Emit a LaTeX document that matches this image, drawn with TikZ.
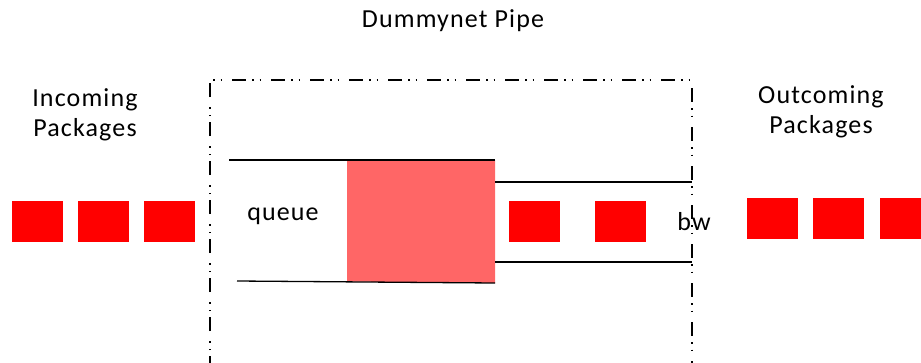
\documentclass[tikz,border=0pt]{standalone}
\usepackage{fontspec}
\setmainfont[LetterSpace=4.4]{Carlito}
\begin{document}
\begin{tikzpicture}[x=1pt,y=-1pt,
  pkt/.style={fill=red,draw=none},
  pipeline/.style={line width=1.3pt,black},
  frame/.style={line width=1.3pt,dash pattern=on 14pt off 6pt on 1.5pt off 6pt on 1.5pt off 10pt},
  lbl/.style={font=\fontsize{26}{30}\selectfont,align=center,inner sep=0pt}]
\useasboundingbox (0,0) rectangle (921,362);
% pipe boundary
\draw[frame] (210,370) -- (210,80) -- (692,80) -- (692,370);
% queue fill and walls
\fill[fill={rgb,255:red,255;green,102;blue,102}] (347,160) -- (495,160) -- (495,283) -- (347,281.5) -- cycle;
\draw[pipeline] (229,160) coordinate (qtl) -- (495,160) coordinate (qtr);
\draw[pipeline] (237,281) coordinate (qbl) -- (495,283) coordinate (qbr);
% bandwidth link
\draw[pipeline] (495,182) coordinate (btl) -- (692,182) coordinate (btr);
\draw[pipeline] (495,262) coordinate (bbl) -- (692,262) coordinate (bbr);
% packets
\path[pkt] (12,201) rectangle (63,242);
\path[pkt] (78,201) rectangle (129,242);
\path[pkt] (144,201) rectangle (195,242);
\path[pkt] (509,201) rectangle (560,242);
\path[pkt] (595,201) rectangle (646,242);
\path[pkt] (747,198) rectangle (798,239);
\path[pkt] (813,198) rectangle (864,239);
\path[pkt] (880,198) rectangle (931,239);
% labels
\node[lbl] (title) at (453,21) {Dummynet Pipe};
\node[lbl] (inc) at (85,115) {Incoming\\Packages};
\node[lbl] (out) at (821,112) {Outcoming\\Packages};
\node[lbl] (queue) at (283,216) {queue};
\node[lbl] (bw) at (694,222) {bw};
\end{tikzpicture}
\end{document}
